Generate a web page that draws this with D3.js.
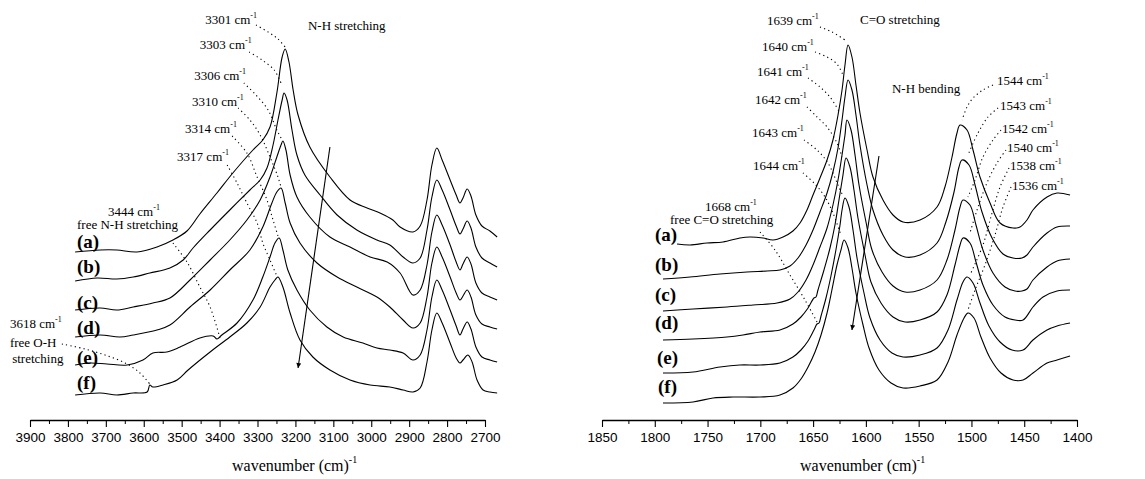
<!DOCTYPE html>
<html>
<head>
<meta charset="utf-8">
<script src="https://cdn.jsdelivr.net/npm/d3@7"></script>
<style>
  body { margin: 0; background: #fff; }
  svg text { font-family: "Liberation Serif", "Times New Roman", serif; fill: #000; }
  .tick text { font-family: "Liberation Sans", Arial, sans-serif; font-size: 13.5px; }
</style>
</head>
<body>
<svg id="chart" width="1145" height="479"></svg>
<script>
const sampleNames = ["(a)", "(b)", "(c)", "(d)", "(e)", "(f)"];

// ---- left panel: 3900-2700 cm-1 (N-H and C-H stretching) ----
const nhTicks = [3900, 3800, 3700, 3600, 3500, 3400, 3300, 3200, 3100, 3000, 2900, 2800, 2700];
const nhMinorTicks = [3850, 3750, 3650, 3550, 3450, 3350, 3250, 3150, 3050, 2950, 2850, 2750];
const nhPeaks = ["3301", "3303", "3306", "3310", "3314", "3317"];

const nhA = [[3781,168],[3715,170],[3671,170],[3618,168],[3565,173],[3523,180],[3486,189],[3452,206],[3407,227],[3365,247],[3312,270],[3286,280],[3267,293],[3249,327],[3235,363],[3227,371],[3217,358],[3206,330],[3193,305],[3162,273],[3109,243],[3056,220],[3011,212],[2977,207],[2943,200],[2924,193],[2890,188],[2871,194],[2853,220],[2840,255],[2827,272],[2813,260],[2792,240],[2776,225],[2766,217],[2758,222],[2747,231],[2737,224],[2724,205],[2708,194],[2687,189],[2668,183]];
const nhB = [[3781,139],[3723,142],[3671,141],[3628,143],[3584,147],[3531,152],[3496,160],[3470,172],[3425,190],[3373,210],[3320,230],[3293,240],[3275,252],[3259,275],[3246,300],[3235,320],[3230,327],[3222,320],[3209,290],[3196,265],[3175,245],[3135,225],[3090,205],[3038,190],[2985,180],[2951,175],[2916,163],[2890,157],[2871,162],[2853,190],[2840,223],[2827,240],[2813,230],[2792,210],[2776,194],[2766,186],[2758,191],[2747,199],[2737,192],[2724,173],[2708,162],[2687,157],[2668,153]];
const nhC = [[3781,110],[3715,112],[3671,110],[3628,113],[3576,117],[3531,122],[3478,140],[3425,160],[3373,180],[3328,200],[3293,220],[3267,243],[3249,263],[3238,275],[3233,279],[3225,270],[3214,245],[3196,223],[3162,203],[3109,183],[3056,173],[3003,163],[2958,158],[2924,147],[2890,125],[2871,130],[2853,155],[2840,188],[2827,205],[2813,195],[2792,175],[2776,158],[2766,150],[2758,156],[2747,163],[2737,156],[2724,137],[2708,127],[2687,123],[2668,120]];
const nhD = [[3781,83],[3715,85],[3663,83],[3628,85],[3565,90],[3531,95],[3478,113],[3425,130],[3373,150],[3320,170],[3286,193],[3262,217],[3249,228],[3238,232],[3227,217],[3214,197],[3188,177],[3143,157],[3090,143],[3038,133],[2985,123],[2951,113],[2916,100],[2890,92],[2871,97],[2853,123],[2840,157],[2827,173],[2813,163],[2792,143],[2776,127],[2766,120],[2758,124],[2747,130],[2737,123],[2724,105],[2708,96],[2687,93],[2668,91]];
const nhE = [[3781,55],[3742,57],[3697,56],[3644,55],[3602,60],[3576,67],[3539,68],[3504,73],[3452,82],[3417,84],[3407,81],[3394,85],[3354,97],[3312,120],[3286,143],[3267,163],[3254,177],[3243,182],[3233,170],[3220,150],[3196,130],[3162,110],[3117,93],[3074,83],[3022,77],[2985,72],[2951,70],[2916,67],[2890,60],[2871,65],[2853,90],[2840,123],[2827,140],[2813,130],[2792,110],[2776,94],[2766,85],[2758,91],[2747,98],[2737,91],[2724,73],[2708,63],[2687,60],[2668,58]];
const nhF = [[3781,25],[3715,27],[3671,25],[3628,27],[3591,28],[3584,35],[3576,33],[3549,35],[3512,40],[3483,50],[3425,68],[3373,83],[3328,97],[3293,113],[3267,133],[3254,140],[3246,143],[3233,133],[3214,107],[3188,80],[3154,63],[3109,50],[3056,40],[3003,35],[2951,33],[2916,30],[2890,28],[2871,32],[2853,58],[2840,90],[2827,107],[2813,97],[2792,77],[2776,62],[2766,57],[2758,60],[2745,65],[2734,58],[2721,40],[2705,30],[2687,28],[2668,27]];

// ---- right panel: 1850-1400 cm-1 (amide C=O stretching and N-H bending) ----
const coTicks = [1850, 1800, 1750, 1700, 1650, 1600, 1550, 1500, 1450, 1400];
const coMinorTicks = [1825, 1775, 1725, 1675, 1625, 1575, 1525, 1475, 1425];
const coPeaks = ["1639", "1640", "1641", "1642", "1643", "1644"];
const bendPeaks = ["1544", "1543", "1542", "1540", "1538", "1536"];

const coA = [[1778.9,176],[1766.6,175],[1750.5,177],[1735.4,178],[1719.3,182],[1709.8,183],[1697.5,182],[1688.0,180],[1678.5,183],[1669.1,189],[1662.4,197],[1655.8,210],[1650.1,225],[1643.5,242],[1636.8,260],[1631.2,280],[1626.4,305],[1622.6,330],[1619.8,355],[1616.9,375],[1613.2,363],[1609.4,335],[1605.6,307],[1598.9,270],[1593.3,243],[1583.8,220],[1574.3,205],[1564.8,198],[1548.7,200],[1532.6,213],[1525.1,233],[1518.4,263],[1513.7,287],[1510.8,295],[1504.2,290],[1498.5,270],[1491.9,243],[1482.4,217],[1472.9,197],[1460.6,192],[1454.0,193],[1447.4,200],[1441.7,210],[1428.4,223],[1418.9,227],[1406.6,225]];
const coB = [[1792.2,141],[1766.6,143],[1738.2,146],[1712.6,148],[1693.7,149],[1681.4,150],[1671.9,154],[1664.3,162],[1656.7,175],[1650.1,190],[1643.5,208],[1636.8,227],[1631.2,248],[1626.4,272],[1622.6,300],[1619.8,323],[1616.9,340],[1613.2,330],[1609.4,305],[1605.6,275],[1598.9,235],[1593.3,210],[1583.8,185],[1574.3,170],[1562.9,163],[1548.7,165],[1532.6,177],[1524.2,198],[1516.5,228],[1511.8,253],[1508.9,260],[1502.3,255],[1496.6,235],[1490.0,208],[1480.5,182],[1470.1,166],[1460.6,162],[1452.1,162],[1447.4,165],[1441.7,173],[1428.4,187],[1418.9,193],[1406.6,194]];
const coC = [[1792.2,109],[1763.8,111],[1731.6,113],[1706.9,115],[1684.2,117],[1671.9,121],[1664.3,128],[1656.7,140],[1650.1,155],[1643.5,173],[1636.8,192],[1631.2,215],[1626.4,240],[1622.6,265],[1619.8,285],[1617.9,300],[1614.1,290],[1610.3,265],[1606.5,235],[1599.9,198],[1594.2,170],[1584.7,148],[1574.3,134],[1562.9,128],[1548.7,130],[1532.6,140],[1523.2,160],[1515.6,190],[1510.8,213],[1508.0,220],[1501.4,215],[1495.7,195],[1489.1,170],[1479.6,147],[1468.2,133],[1458.7,129],[1452.1,129],[1447.4,131],[1441.7,140],[1428.4,153],[1418.9,159],[1406.6,161]];
const coD = [[1792.2,80],[1763.8,81],[1731.6,83],[1716.4,85],[1700.3,88],[1681.4,90],[1669.1,96],[1661.5,103],[1654.8,112],[1649.2,122],[1647.3,123],[1645.4,130],[1639.7,150],[1634.0,172],[1629.3,195],[1625.5,220],[1621.7,245],[1618.8,262],[1615.1,253],[1611.3,230],[1607.5,202],[1600.8,165],[1595.2,138],[1585.7,117],[1574.3,103],[1562.9,98],[1548.7,100],[1532.6,108],[1523.2,125],[1515.6,155],[1510.8,175],[1508.0,182],[1501.4,177],[1495.7,158],[1489.1,135],[1479.6,115],[1468.2,103],[1458.7,100],[1451.1,100],[1441.7,113],[1432.2,123],[1418.9,129],[1406.6,130]];
const coE = [[1792.2,47],[1763.8,48],[1738.2,53],[1719.3,55],[1700.3,55],[1681.4,57],[1669.1,63],[1661.5,70],[1654.8,79],[1649.2,90],[1646.3,96],[1644.4,97],[1642.5,104],[1637.8,122],[1633.1,144],[1628.4,170],[1624.5,195],[1622.6,210],[1619.8,222],[1616.0,213],[1612.2,190],[1608.4,162],[1601.8,127],[1596.1,102],[1586.6,80],[1575.3,67],[1564.8,63],[1548.7,65],[1532.6,72],[1522.2,90],[1513.7,120],[1508.0,138],[1504.2,143],[1498.5,137],[1491.9,117],[1483.4,94],[1472.9,78],[1461.6,70],[1451.1,70],[1441.7,80],[1428.4,90],[1418.9,94],[1406.6,97]];
const coF = [[1792.2,17],[1763.8,18],[1744.8,22],[1725.9,23],[1700.3,23],[1681.4,25],[1669.1,32],[1661.5,41],[1654.8,53],[1648.2,68],[1642.5,85],[1636.8,107],[1632.2,130],[1627.4,155],[1623.6,170],[1620.7,180],[1616.9,172],[1613.2,152],[1609.4,127],[1602.7,95],[1597.0,72],[1587.6,50],[1576.2,37],[1564.8,32],[1548.7,34],[1532.6,40],[1522.2,58],[1513.7,85],[1507.0,102],[1503.3,107],[1497.6,102],[1491.0,83],[1482.4,62],[1472.0,47],[1460.6,40],[1451.1,40],[1441.7,47],[1428.4,57],[1418.9,60],[1406.6,64]];

// ---- annotation layout, in axis units ----
const nhLayout = {
  domain: [3900, 2700], range: [30, 485],
  letters: [[3776,172],[3776,147],[3776,111],[3776,86],[3776,56],[3776,31]],
  peakText: [[3438,396],[3452,371],[3467,340],[3473,314],[3491,287],[3512,259]],
  leaders: [
    [[3304,395],[3272,388],[3246,381],[3227,373]],
    [[3322,368],[3288,360],[3256,350],[3238,337]],
    [[3336,337],[3304,325],[3272,310],[3249,290],[3235,280]],
    [[3351,312],[3320,300],[3293,285],[3267,263],[3246,243],[3238,233]],
    [[3367,284],[3328,267],[3301,243],[3275,220],[3259,200],[3246,184]],
    [[3380,255],[3354,237],[3328,217],[3301,197],[3286,177],[3267,160],[3249,144]],
    [[3523,177],[3486,158],[3452,133],[3425,113],[3399,82]],
    [[3816,76],[3755,71],[3702,65],[3649,57],[3610,47],[3584,36]]
  ],
  notes: [
    {text: "3444 cm", sup: true, at: [3694,204]},
    {text: "free N-H stretching", at: [3776,191]},
    {text: "3618 cm", sup: true, at: [3953,92]},
    {text: "free O-H", at: [3953,73]},
    {text: "stretching", at: [3947,57]},
    {text: "N-H stretching", at: [3167,390]}
  ],
  arrow: [[3109,273],[3193,52]],
  title: 232
};

const coLayout = {
  domain: [1850, 1400], range: [602, 1077],
  letters: [[1799.8,179],[1799.8,149],[1799.8,119],[1799.8,91],[1797.9,56],[1796.9,27]],
  peakText: [[1693.7,395],[1698.4,369],[1703.2,344],[1705.1,316],[1707.9,283],[1706.9,250]],
  bendText: [[1475.8,335],[1472.9,310],[1471.1,287],[1466.3,268],[1463.5,250],[1461.6,230]],
  leaders: [
    [[1643.5,393],[1632.1,388],[1619.8,380]],
    [[1648.2,368],[1636.8,363],[1627.4,356],[1621.7,345]],
    [[1654.8,342],[1643.5,333],[1634.0,323],[1624.5,307]],
    [[1655.8,313],[1646.3,303],[1636.8,293],[1627.4,277],[1622.6,263]],
    [[1658.6,280],[1646.3,270],[1635.9,257],[1626.4,235],[1621.7,224]],
    [[1659.6,247],[1648.2,236],[1638.7,223],[1631.2,207],[1623.6,185]],
    [[1700.3,188],[1686.1,170],[1671.9,145],[1657.7,120],[1646.3,98]],
    [[1479.6,335],[1489.1,330],[1498.5,322],[1504.2,313],[1508.9,300]],
    [[1474.8,312],[1484.3,303],[1493.8,287],[1503.3,265]],
    [[1472.0,290],[1479.6,280],[1489.1,263],[1496.6,240],[1503.3,223]],
    [[1467.3,270],[1475.8,257],[1485.3,237],[1494.7,210],[1501.4,187]],
    [[1464.4,252],[1472.9,233],[1480.5,207],[1489.1,175],[1501.4,145]],
    [[1462.5,233],[1470.1,213],[1477.7,185],[1487.2,155],[1496.6,130],[1503.3,110]]
  ],
  notes: [
    {text: "C=O stretching", at: [1605.6,396]},
    {text: "1668 cm", sup: true, at: [1752.4,209]},
    {text: "free C=O stretching", at: [1785.6,196]},
    {text: "N-H bending", at: [1575.3,327]}
  ],
  arrow: [[1587.6,264],[1613.2,90]],
  title: 800
};

const svg = d3.select("#chart");
svg.append("rect").attr("width", 1145).attr("height", 479).attr("fill", "#fff");

svg.append("defs").append("marker")
  .attr("id", "head")
  .attr("viewBox", "0 0 10 10")
  .attr("refX", 10).attr("refY", 5)
  .attr("markerUnits", "userSpaceOnUse")
  .attr("markerWidth", 11).attr("markerHeight", 5)
  .attr("orient", "auto")
  .append("path").attr("d", "M0,0L10,5L0,10Z").attr("fill", "#000");

const y = d3.scaleLinear().domain([0, 400]).range([420, 20]);

function addLabel(g, x, pos, txt, sup) {
  const t = g.append("text")
    .attr("x", x(pos[0])).attr("y", y(pos[1]))
    .attr("font-size", 13);
  t.append("tspan").text(txt);
  if (sup) t.append("tspan").attr("font-size", 8).attr("dy", -6).text("-1");
}

function drawPanel(p, series, ticks, minor, peakNames, bendNames) {
  const x = d3.scaleLinear().domain(p.domain).range(p.range);
  const g = svg.append("g");

  const line = d3.line()
    .x(d => x(d[0])).y(d => y(d[1]))
    .curve(d3.curveCatmullRom.alpha(0.5));

  g.selectAll("path.spectrum").data(series).join("path")
    .attr("class", "spectrum")
    .attr("d", line)
    .attr("fill", "none").attr("stroke", "#000").attr("stroke-width", 1.1);

  g.selectAll("path.leader").data(p.leaders).join("path")
    .attr("class", "leader")
    .attr("d", line)
    .attr("fill", "none").attr("stroke", "#000").attr("stroke-width", 1.1)
    .attr("stroke-dasharray", "1.2,3.2");

  g.selectAll("text.sample").data(p.letters).join("text")
    .attr("class", "sample")
    .attr("x", d => x(d[0])).attr("y", d => y(d[1]))
    .attr("font-size", 19).attr("font-weight", "bold")
    .text((d, i) => sampleNames[i]);

  peakNames.forEach((n, i) => addLabel(g, x, p.peakText[i], n + " cm", true));
  if (bendNames) bendNames.forEach((n, i) => addLabel(g, x, p.bendText[i], n + " cm", true));
  p.notes.forEach(n => addLabel(g, x, n.at, n.text, n.sup));

  g.append("line")
    .attr("x1", x(p.arrow[0][0])).attr("y1", y(p.arrow[0][1]))
    .attr("x2", x(p.arrow[1][0])).attr("y2", y(p.arrow[1][1]))
    .attr("stroke", "#000").attr("stroke-width", 1.1)
    .attr("marker-end", "url(#head)");

  // axis with major and minor ticks pointing down
  const ax = g.append("g").attr("transform", "translate(0,420)")
    .call(d3.axisBottom(x).tickValues(ticks).tickSize(7).tickSizeOuter(0).tickFormat(d3.format("d")));
  ax.select(".domain").attr("stroke-width", 1.3);
  ax.selectAll(".tick line").attr("stroke-width", 1.1);
  ax.selectAll(".tick text").attr("y", 12).attr("fill", "#000");
  const mi = g.append("g").attr("transform", "translate(0,420)")
    .call(d3.axisBottom(x).tickValues(minor).tickSize(4).tickFormat(""));
  mi.select(".domain").remove();

  const title = g.append("text").attr("x", p.title).attr("y", 471).attr("font-size", 16);
  title.append("tspan").text("wavenumber (cm)");
  title.append("tspan").attr("font-size", 10).attr("dy", -8).text("-1");
}

drawPanel(nhLayout, [nhA, nhB, nhC, nhD, nhE, nhF], nhTicks, nhMinorTicks, nhPeaks, null);
drawPanel(coLayout, [coA, coB, coC, coD, coE, coF], coTicks, coMinorTicks, coPeaks, bendPeaks);
</script>
</body>
</html>
